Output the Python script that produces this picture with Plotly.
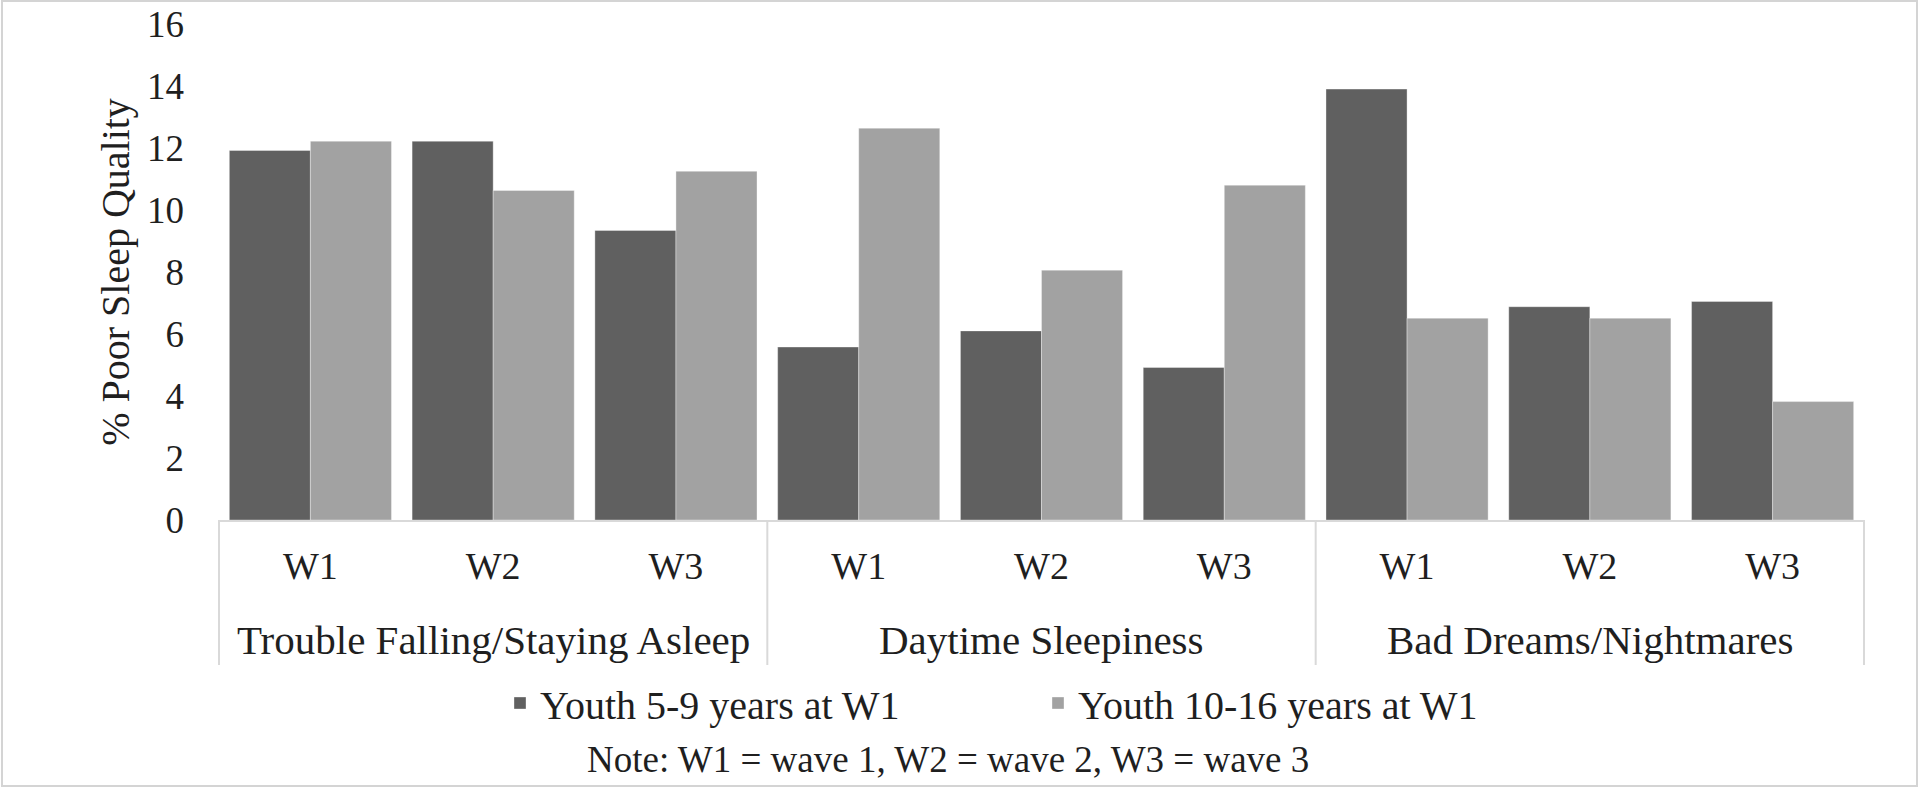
import plotly.graph_objects as go

groups = ["Trouble Falling/Staying Asleep", "Daytime Sleepiness", "Bad Dreams/Nightmares"]
waves = ["W1", "W2", "W3"]
series_names = ["Youth 5-9 years at W1", "Youth 10-16 years at W1"]
young = [11.92, 12.22, 9.34, 5.58, 6.10, 4.92, 13.90, 6.88, 7.05]
old = [12.22, 10.63, 11.25, 12.64, 8.06, 10.80, 6.51, 6.51, 3.82]
colors = ["#606060", "#a2a2a2"]
y_ticks = [0, 2, 4, 6, 8, 10, 12, 14, 16]
y_title = "% Poor Sleep Quality"
note = "Note: W1 = wave 1, W2 = wave 2, W3 = wave 3"

cats = [f"{g}|{w}" for g in groups for w in waves]
tick_text = [w for g in groups for w in waves]

W, H = 1920, 788
ml, mr, mt, mb = 218, 55, 24, 268
pw, ph = W - ml - mr, H - mt - mb

def py(pix):
    return (H - mb - pix) / ph

def px(pix):
    return (pix - ml) / pw

SERIF = "Liberation Serif"
TXT = "#1f1f1f"

fig = go.Figure()
for name, vals, c in zip(series_names, [young, old], colors):
    fig.add_trace(go.Bar(
        x=cats, y=vals, name=name,
        marker=dict(color=c, line=dict(color="rgba(255,255,255,0.35)", width=1)),
    ))

shapes = []
n_w = len(waves)
for i in range(len(groups) + 1):
    shapes.append(dict(type="line", xref="x", yref="paper",
                       x0=i * n_w - 0.5, x1=i * n_w - 0.5, y0=0, y1=py(665),
                       line=dict(color="#d9d9d9", width=2)))
shapes.append(dict(type="rect", xref="paper", yref="paper",
                   x0=px(2), x1=px(1917), y0=py(786), y1=py(1),
                   line=dict(color="#d4d4d4", width=2), fillcolor="rgba(0,0,0,0)", layer="below"))

annotations = []
for g in groups:
    annotations.append(dict(text=g, xref="x", yref="paper", x=f"{g}|{waves[1]}", y=py(640),
                            xanchor="center", yanchor="middle", showarrow=False,
                            font=dict(family=SERIF, size=41, color=TXT)))
annotations.append(dict(text=note, xref="paper", yref="paper", x=px(948), y=py(759),
                        xanchor="center", yanchor="middle", showarrow=False,
                        font=dict(family=SERIF, size=37, color=TXT)))

fig.update_layout(
    width=W, height=H,
    margin=dict(l=ml, r=mr, t=mt, b=mb, autoexpand=False),
    paper_bgcolor="white", plot_bgcolor="white",
    barmode="group", bargap=0.113, bargroupgap=0,
    showlegend=True,
    legend=dict(orientation="h", x=px(500), xanchor="left", y=py(703), yanchor="middle",
                font=dict(family=SERIF, size=40, color=TXT),
                entrywidth=493, entrywidthmode="pixels", bgcolor="rgba(0,0,0,0)"),
    shapes=shapes, annotations=annotations,
    xaxis=dict(type="category", tickvals=cats, ticktext=tick_text,
               showline=True, linecolor="#d9d9d9", linewidth=2,
               showgrid=False, zeroline=False, ticks="",
               ticklabelstandoff=11,
               tickfont=dict(family=SERIF, size=38, color=TXT)),
    yaxis=dict(range=[0, 16], tickvals=y_ticks, showgrid=False, zeroline=False,
               showline=False, ticks="", ticklabelstandoff=33,
               tickfont=dict(family=SERIF, size=37, color=TXT),
               title=dict(text=y_title, standoff=5,
                          font=dict(family=SERIF, size=40, color=TXT))),
)

fig.write_html("out.html", config={"displayModeBar": False},
               post_script="document.body.style.margin='0';document.body.style.overflow='hidden';")
